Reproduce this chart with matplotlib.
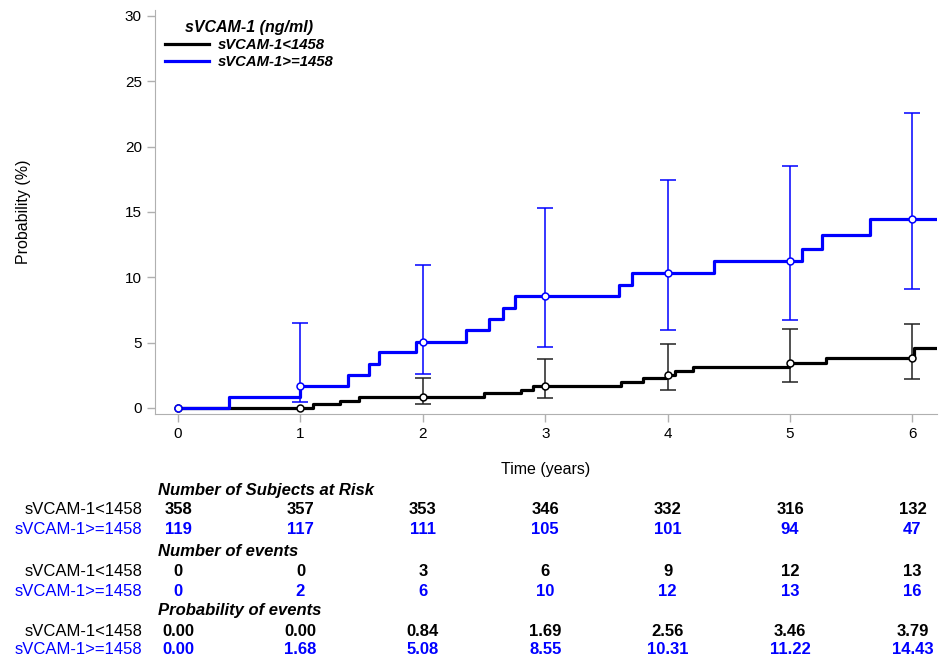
import matplotlib
matplotlib.use("Agg")
from matplotlib import pyplot as plt
from matplotlib.lines import Line2D
import matplotlib.transforms as mtransforms

plt.rcParams["font.family"] = ["Liberation Sans", "DejaVu Sans"]

BLUE = "#0000ff"
GRAY = "#b0b0b0"

# step curves (cumulative probability, %)
low_times = [0, 1.1, 1.32, 1.48, 2.5, 2.8, 2.9, 3.62, 3.8, 3.99, 4.06, 4.21, 4.99, 5.29, 6.01, 6.2]
low_probs = [0, 0.28, 0.56, 0.84, 1.13, 1.41, 1.69, 1.98, 2.27, 2.56, 2.85, 3.17, 3.46, 3.79, 4.56, 4.56]
high_times = [0, 0.42, 1.0, 1.39, 1.56, 1.64, 1.94, 2.35, 2.54, 2.655, 2.755, 3.6, 3.71, 4.38, 5.1, 5.26, 5.65, 6.2]
high_probs = [0, 0.84, 1.68, 2.5, 3.4, 4.26, 5.08, 5.94, 6.8, 7.67, 8.55, 9.41, 10.31, 11.22, 12.17, 13.2, 14.43, 14.43]

# yearly points and confidence limits
years = [0, 1, 2, 3, 4, 5, 6]
low_at_risk = [358, 357, 353, 346, 332, 316, 132]
high_at_risk = [119, 117, 111, 105, 101, 94, 47]
low_events = [0, 0, 3, 6, 9, 12, 13]
high_events = [0, 2, 6, 10, 12, 13, 16]
low_point = [0.00, 0.00, 0.84, 1.69, 2.56, 3.46, 3.79]
high_point = [0.00, 1.68, 5.08, 8.55, 10.31, 11.22, 14.43]

low_ci_years = [2, 3, 4, 5, 6]
low_ci_lower = [0.3, 0.8, 1.38, 2.0, 2.2]
low_ci_upper = [2.3, 3.75, 4.87, 6.02, 6.4]
high_ci_years = [1, 2, 3, 4, 5, 6]
high_ci_lower = [0.45, 2.6, 4.7, 6.0, 6.7, 9.08]
high_ci_upper = [6.5, 10.94, 15.3, 17.45, 18.5, 22.55]

low_label = "sVCAM-1<1458"
high_label = "sVCAM-1>=1458"

fig = plt.figure(figsize=(9.47, 6.59), dpi=100)
ax = fig.add_axes([0.1637, 0.3718, 0.8257, 0.613])

ax.step(low_times, low_probs, where="post", color="black", lw=2.3, zorder=3)
ax.step(high_times, high_probs, where="post", color=BLUE, lw=2.3, zorder=3)


def ci_bars(xs, pts, lo, hi, color):
    ys = [pts[years.index(x)] for x in xs]
    err = [[y - l for y, l in zip(ys, lo)], [h - y for y, h in zip(ys, hi)]]
    ax.errorbar(xs, ys, yerr=err, fmt="none", ecolor=color, elinewidth=1.1,
                capsize=5.5, capthick=1.1, zorder=2)


ci_bars(low_ci_years, low_point, low_ci_lower, low_ci_upper, "#222222")
ci_bars(high_ci_years, high_point, high_ci_lower, high_ci_upper, BLUE)

ax.plot(years, low_point, "o", ms=5, mfc="white", mec="black", mew=1.1, zorder=4)
ax.plot(years, high_point, "o", ms=5, mfc="white", mec=BLUE, mew=1.1, zorder=4)

ax.set_xlim(-0.188, 6.2)
ax.set_ylim(-0.46, 30.45)
ax.set_xticks(years)
ax.set_yticks([0, 5, 10, 15, 20, 25, 30])
for s in ["top", "right"]:
    ax.spines[s].set_visible(False)
for s in ["left", "bottom"]:
    ax.spines[s].set_color(GRAY)
ax.tick_params(colors=GRAY, labelcolor="black", labelsize=11, length=6, width=1)
ax.set_xlabel("Time (years)", fontsize=11.5, labelpad=15)
ax.set_ylabel("Probability (%)", fontsize=11.5)
ax.yaxis.set_label_coords(-0.158, 0.5)

handles = [Line2D([], [], color="black", lw=2.3), Line2D([], [], color=BLUE, lw=2.3)]
leg = ax.legend(handles, [low_label, high_label], loc="upper left", bbox_to_anchor=(0.0, 1.0),
                frameon=False, title="sVCAM-1 (ng/ml)", handlelength=2.9, handletextpad=0.6,
                prop={"weight": "bold", "style": "italic", "size": 10.7},
                labelspacing=0.2, borderaxespad=0.3)
leg.get_title().set_fontweight("bold")
leg.get_title().set_fontstyle("italic")
leg.get_title().set_fontsize(11.5)
leg._legend_box.align = "center"

# risk table below the axes
trans = mtransforms.blended_transform_factory(ax.transData, fig.transFigure)
H = 659.0
FS = 12


def fy(px):
    return 1 - px / H


def header(text, ypx):
    fig.text(158 / 947, fy(ypx), text, ha="left", va="center", fontsize=FS,
             fontweight="bold", fontstyle="italic")


def row(name, vals, ypx, color, fmt="{}"):
    fig.text(142 / 947, fy(ypx), name, ha="right", va="center", fontsize=FS, color=color)
    for x, v in zip(years, vals):
        fig.text(x, fy(ypx), fmt.format(v), transform=trans, ha="center", va="center",
                 fontsize=FS, fontweight="bold", color=color)


header("Number of Subjects at Risk", 490)
row(low_label, low_at_risk, 510, "black")
row(high_label, high_at_risk, 529, BLUE)
header("Number of events", 551)
row(low_label, low_events, 571, "black")
row(high_label, high_events, 591, BLUE)
header("Probability of events", 611)
row(low_label, low_point, 631, "black", "{:.2f}")
row(high_label, high_point, 650, BLUE, "{:.2f}")

fig.savefig("out.png", dpi=100)
